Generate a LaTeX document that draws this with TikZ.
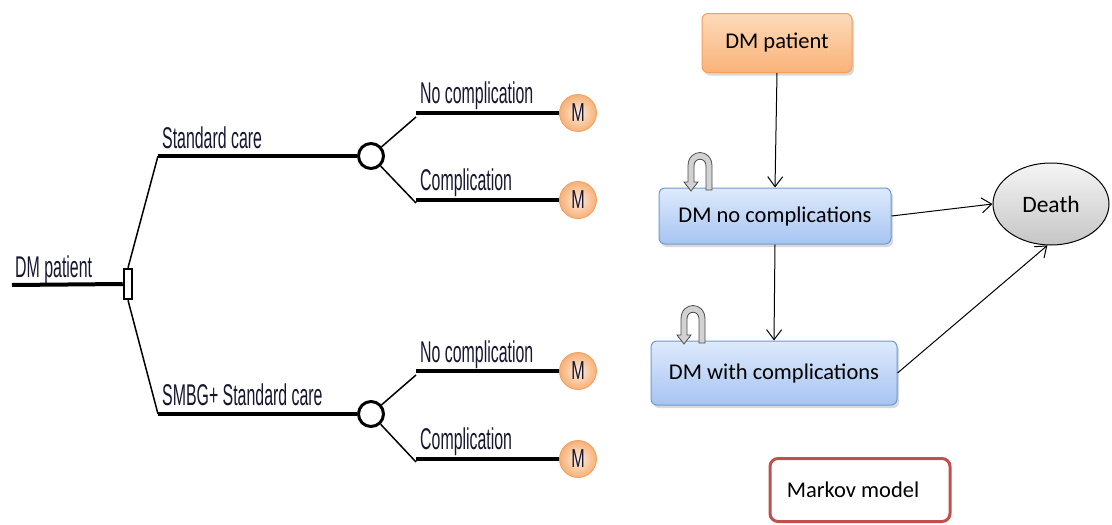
\documentclass[tikz,border=0pt]{standalone}
\usepackage{fontspec}
\setmainfont{Carlito}
\newfontfamily\treefont[FakeStretch=0.53]{Liberation Sans}
\newfontfamily\mfont[FakeStretch=0.62]{Liberation Sans}
\usetikzlibrary{shapes.geometric,arrows.meta,shadows}
\definecolor{labelc}{RGB}{22,22,48}
\definecolor{minner}{RGB}{253,236,222}
\definecolor{mouter}{RGB}{247,176,118}
\definecolor{mborder}{RGB}{240,160,95}
\definecolor{otop}{RGB}{253,218,186}
\definecolor{obot}{RGB}{249,178,120}
\definecolor{oborder}{RGB}{245,160,90}
\definecolor{btop}{RGB}{222,234,252}
\definecolor{bbot}{RGB}{166,196,242}
\definecolor{bborder}{RGB}{110,154,211}
\definecolor{redb}{RGB}{192,80,77}
\begin{document}
\begin{tikzpicture}[x=1pt,y=-1pt,
  tline/.style={line width=4pt},
  bline/.style={line width=1.5pt},
  lbl/.style={font=\treefont\fontsize{30}{32}\selectfont, anchor=base west, inner sep=0pt, text=labelc},
  chance/.style={circle, draw, line width=3pt, minimum size=25pt, inner sep=0pt, fill=white},
  decision/.style={rectangle, draw, line width=2.5pt, minimum width=8pt, minimum height=30pt, inner sep=0pt, fill=white},
  mnode/.style={circle, draw=mborder, line width=0.8pt, inner color=minner, outer color=mouter, minimum size=37pt, inner sep=0pt, text=labelc, font=\mfont\fontsize{26}{28}\selectfont},
  box/.style={rectangle, rounded corners=6pt, line width=1pt, inner sep=0pt,
    drop shadow={opacity=0.3, shadow xshift=2pt, shadow yshift=-3pt},
    font=\fontsize{22.5}{26}\selectfont},
  orangebox/.style={box, draw=oborder, top color=otop, bottom color=obot},
  bluebox/.style={box, draw=bborder, top color=btop, bottom color=bbot},
  arr/.style={line width=1pt, -{Straight Barb[length=10pt,width=15pt]}},
  selfloop/.pic={
    \filldraw[fill=gray!35, draw=black!70, line width=0.8pt]
      (6,0) -- (6,-24) .. controls (6,-33) and (-6,-33) .. (-6,-24) -- (-6,-8)
      -- (-2,-8) -- (-9,1) -- (-16,-8) -- (-12,-8) -- (-12,-24)
      .. controls (-12,-42) and (12,-42) .. (12,-24) -- (12,0) -- cycle;
  }
]
\useasboundingbox (0,0) rectangle (1112,525);

% ---------------- decision tree ----------------
\coordinate (root) at (12,285);
\node[decision] (sq) at (128,284) {};
\draw[tline] (root) -- (sq.west);
\node[lbl] (tdm) at (15,277) {DM patient};

\coordinate (a1) at (158,156);
\coordinate (a2) at (158,414);
\node[chance] (c1) at (371,156) {};
\node[chance] (c2) at (371,414) {};
\draw[bline] (sq.north) -- (a1);
\draw[bline] (sq.south) -- (a2);
\draw[tline] (a1) -- (c1.west);
\draw[tline] (a2) -- (c2.west);
\node[lbl] (tsc) at (162,148) {Standard care};
\node[lbl] (tsm) at (162,405) {SMBG+ Standard care};

% upper chance branches
\coordinate (b1t) at (416,117);
\coordinate (b1s) at (416,113);
\coordinate (b2t) at (416,203);
\coordinate (b2s) at (416,200);
\node[mnode] (m1) at (578,113) {M};
\node[mnode] (m2) at (578,200) {M};
\draw[bline] (c1) -- (b1t);
\draw[bline] (c1) -- (b2t);
\draw[tline] (b1s) -- (m1.west);
\draw[tline] (b2s) -- (m2.west);
\node[lbl] (tn1) at (420,103) {No complication};
\node[lbl] (tc1) at (420,190) {Complication};

% lower chance branches
\coordinate (b3t) at (416,375);
\coordinate (b3s) at (416,371);
\coordinate (b4t) at (416,462);
\coordinate (b4s) at (416,459);
\node[mnode] (m3) at (578,371) {M};
\node[mnode] (m4) at (578,459) {M};
\draw[bline] (c2) -- (b3t);
\draw[bline] (c2) -- (b4t);
\draw[tline] (b3s) -- (m3.west);
\draw[tline] (b4s) -- (m4.west);
\node[lbl] (tn2) at (420,362) {No complication};
\node[lbl] (tc2) at (420,449) {Complication};

% ---------------- Markov model ----------------
\node[orangebox, minimum width=150pt, minimum height=59pt] (p) at (777,43) {DM patient};
\node[bluebox, minimum width=232pt, minimum height=56pt] (n1) at (775,216) {DM no complications};
\node[bluebox, minimum width=246pt, minimum height=64pt] (n2) at (774,373) {DM with complications};
\node[ellipse, draw, line width=1pt, top color=gray!8, bottom color=gray!45,
      minimum width=116pt, minimum height=82pt, inner sep=0pt,
      font=\fontsize{23.5}{26}\selectfont] (death) at (1051,204) {Death};
\node[rectangle, rounded corners=8pt, draw=redb, line width=3pt, fill=white,
      minimum width=180pt, minimum height=63pt, inner sep=0pt,
      font=\fontsize{22.5}{26}\selectfont] (mk) at (860,490) {\hspace*{-14pt}Markov model};

\pic at (700,190) {selfloop};
\pic at (693,343) {selfloop};

\draw[arr] (p.south) -- (n1.north);
\draw[arr] (n1.south) -- (n2.north);
\draw[arr] (n1.east) -- (death.west);
\draw[arr] (n2.east) -- (death.265);
\end{tikzpicture}
\end{document}
